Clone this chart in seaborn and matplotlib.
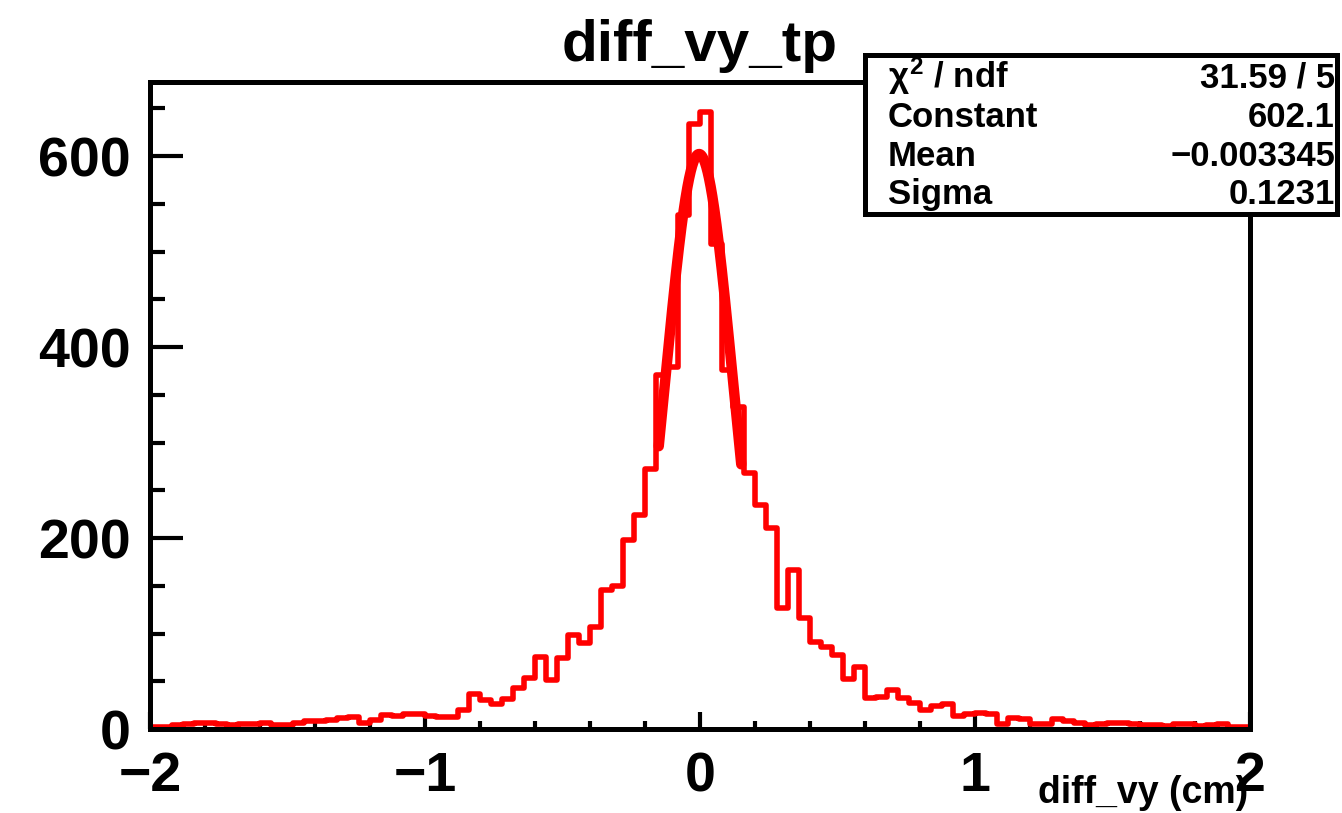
import numpy as np
import pandas as pd
import matplotlib
matplotlib.use("Agg")
import matplotlib.pyplot as plt
import seaborn as sns
from matplotlib.patches import Rectangle

# Histogram binning for diff_vy (cm)
x_min, x_max, n_bins = -2.0, 2.0, 100

# Entries per bin, from x = -2 to x = 2
counts_left_tail = [2, 2, 4, 5, 6, 6, 5, 4, 5, 5, 6, 4, 4, 6, 8, 8, 9, 11, 13, 6,
                    9, 15, 14, 16, 16, 14, 13, 13, 20, 37]
counts_rise = [30, 26, 31, 43, 53, 75, 51, 74, 98, 90, 107, 146, 150, 198, 224,
               272, 371, 379, 538, 634]
counts_fall = [646, 508, 376, 337, 268, 235, 210, 127, 167, 116, 91, 86, 77, 52,
               65, 32, 34, 41, 32, 27]
counts_right_tail = [20, 24, 26, 14, 16, 17, 16, 5, 12, 10, 5, 5, 10, 8, 6, 4, 5,
                     6, 6, 5, 4, 4, 3, 5, 5, 3, 4, 5, 2, 2]
counts = counts_left_tail + counts_rise + counts_fall + counts_right_tail

# Gaussian fit result
fit_constant = 602.1
fit_mean = -0.003345
fit_sigma = 0.1231
fit_lo, fit_hi = -0.15, 0.15

stat_labels = [r"$\chi^{2}$ / ndf", "Constant", "Mean", "Sigma"]
stat_values = ["31.59 / 5", "602.1", "\u22120.003345", "0.1231"]

x_major = [-2, -1, 0, 1, 2]
y_major = [0, 200, 400, 600]

sns.set_style("white")
plt.rcParams["font.family"] = ["Liberation Sans", "DejaVu Sans"]
plt.rcParams["font.weight"] = "bold"
plt.rcParams["text.color"] = "black"
plt.rcParams["xtick.color"] = "black"
plt.rcParams["ytick.color"] = "black"
plt.rcParams["axes.labelcolor"] = "black"
plt.rcParams["mathtext.fontset"] = "custom"
plt.rcParams["mathtext.rm"] = "Liberation Sans:bold"
plt.rcParams["mathtext.it"] = "Liberation Sans"
plt.rcParams["mathtext.bf"] = "Liberation Sans:bold"
plt.rcParams["axes.unicode_minus"] = True

W, H = 1342, 813
fig = plt.figure(figsize=(W / 100, H / 100), dpi=100)
ax = fig.add_axes([150 / W, 84 / H, 1100 / W, 647 / H])

width = (x_max - x_min) / n_bins
centers = x_min + width * (np.arange(n_bins) + 0.5)
df = pd.DataFrame({"diff_vy": centers, "entries": counts})

sns.histplot(data=df, x="diff_vy", weights="entries", bins=n_bins,
             binrange=(x_min, x_max), element="step", fill=False,
             color="#ff0000", linewidth=4.0, ax=ax)

xf = np.linspace(fit_lo, fit_hi, 300)
yf = fit_constant * np.exp(-0.5 * ((xf - fit_mean) / fit_sigma) ** 2)
sns.lineplot(x=xf, y=yf, color="#ff0000", linewidth=7.5, ax=ax)

ax.set_xlim(x_min, x_max)
ax.set_ylim(0, 677.5)
ax.set_xlabel("")
ax.set_ylabel("")

ax.set_xticks(x_major)
ax.set_xticks(np.arange(-2, 2.001, 0.2), minor=True)
ax.set_yticks(y_major)
ax.set_yticks(np.arange(0, 677, 50), minor=True)
ax.set_xticklabels([f"{v}".replace("-", "\u2212") for v in x_major])
ax.set_yticklabels([str(v) for v in y_major])

for s in ax.spines.values():
    s.set_linewidth(3.6)
    s.set_color("black")

ax.tick_params(which="both", direction="in", bottom=True, left=True,
               top=False, right=False, color="black", labelcolor="black",
               width=3.0)
ax.tick_params(axis="x", which="major", length=12, labelsize=40, pad=16)
ax.tick_params(axis="x", which="minor", length=6)
ax.tick_params(axis="y", which="major", length=24, labelsize=40, pad=14)
ax.tick_params(axis="y", which="minor", length=11)
for lab in ax.get_xticklabels() + ax.get_yticklabels():
    lab.set_fontweight("bold")

fig.text(700 / W, 1 - 61 / H, "diff_vy_tp", ha="center", va="baseline",
         fontsize=42, fontweight="bold", color="black")
fig.text(1248 / W, 1 - 803 / H, "diff_vy (cm)", ha="right", va="baseline",
         fontsize=27, fontweight="bold", color="black")

# Fit statistics box
box = Rectangle((865 / W, 1 - 214 / H), 472 / W, 159 / H,
                transform=fig.transFigure, facecolor="white",
                edgecolor="black", linewidth=3.6, zorder=5)
fig.add_artist(box)
row_baselines = [88, 127, 166, 204]
for lab, val, yb in zip(stat_labels, stat_values, row_baselines):
    fig.text(888 / W, 1 - yb / H, lab, ha="left", va="baseline",
             fontsize=25, fontweight="bold", color="black", zorder=6)
    fig.text(1335 / W, 1 - yb / H, val, ha="right", va="baseline",
             fontsize=25, fontweight="bold", color="black", zorder=6)

fig.savefig("out.png", dpi=100, facecolor="white")
